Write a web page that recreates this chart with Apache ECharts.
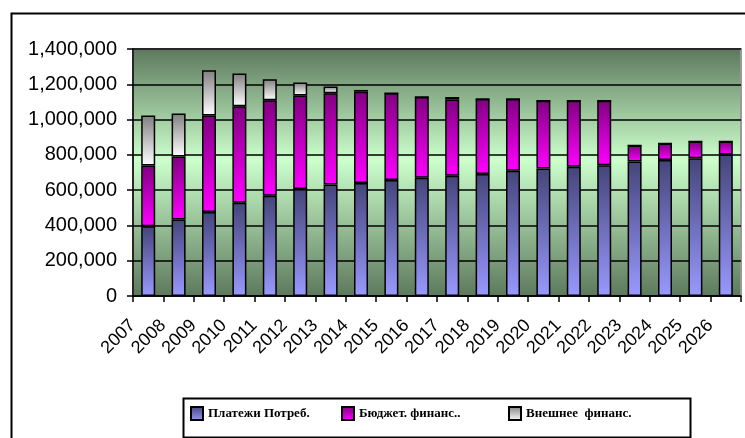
<!DOCTYPE html>
<html>
<head>
<meta charset="utf-8">
<script src="https://cdn.jsdelivr.net/npm/echarts@6/dist/echarts.min.js"></script>
<style>
  html, body { margin: 0; padding: 0; background: #fff; }
  #chart { width: 745px; height: 438px; }
</style>
</head>
<body>
<div id="chart"></div>
<script>
  // категории и значения
  var years = ['2007', '2008', '2009', '2010', '2011', '2012', '2013', '2014', '2015', '2016',
               '2017', '2018', '2019', '2020', '2021', '2022', '2023', '2024', '2025', '2026'];
  var payments = [395000, 434000, 476000, 528000, 568000, 606000, 632000, 640000, 657000, 670000,
                  682000, 691000, 710000, 722000, 733000, 741000, 762000, 771000, 781000, 802000];
  var budget = [344000, 356000, 547000, 548000, 541000, 531000, 517000, 518000, 492000, 458000,
                432000, 425000, 406000, 385000, 374000, 366000, 91000, 94000, 95000, 74000];
  var external = [284000, 244000, 257000, 185000, 120000, 73000, 38000, 10000, 0, 0,
                  14000, 0, 0, 0, 0, 0, 0, 0, 0, 0];
  var seriesNames = ['Платежи Потреб.', 'Бюджет. финанс..', 'Внешнее  финанс.'];
  var legendLeft = [190, 341, 508];

  function vgrad(top, bottom) {
    return new echarts.graphic.LinearGradient(0, 0, 0, 1, [
      { offset: 0, color: top },
      { offset: 1, color: bottom }
    ]);
  }

  var chart = echarts.init(document.getElementById('chart'));
  var barStyle = { borderColor: '#000', borderWidth: 1.5 };

  // по одной легенде на серию, чтобы поставить их как в оригинале
  var legends = seriesNames.map(function (name, i) {
    return {
      left: legendLeft[i], top: 406,
      padding: 0,
      icon: 'rect',
      itemWidth: 12, itemHeight: 13,
      textStyle: {
        fontFamily: 'Liberation Serif', fontWeight: 'bold', fontSize: 13, color: '#000',
        padding: [0, 0, 6, 0]
      },
      data: [name]
    };
  });

  chart.setOption({
    animation: false,
    backgroundColor: '#fff',
    graphic: [{
      type: 'rect',
      left: 9, top: 11,
      shape: { width: 760, height: 440 },
      style: { fill: 'none', stroke: '#000', lineWidth: 2 },
      silent: true
    }, {
      type: 'rect',
      left: 181, top: 396,
      shape: { width: 507, height: 39 },
      style: { fill: 'none', stroke: '#000', lineWidth: 2 },
      silent: true
    }],
    grid: {
      left: 133, right: 4, top: 49, bottom: 142,
      show: true,
      borderColor: '#999',
      borderWidth: 2,
      backgroundColor: new echarts.graphic.LinearGradient(0, 0, 0, 1, [
        { offset: 0, color: '#5c785c' },
        { offset: 0.45, color: '#ccffcc' },
        { offset: 1, color: '#5c785c' }
      ])
    },
    legend: legends,
    xAxis: {
      type: 'category',
      data: years,
      axisLine: { lineStyle: { color: '#000', width: 1.5 } },
      axisTick: { show: true, length: 6, lineStyle: { color: '#000', width: 1.5 } },
      axisLabel: {
        rotate: 45,
        margin: 11,
        padding: [0, 22, 0, 0],
        interval: 0,
        fontFamily: 'Liberation Sans',
        fontSize: 18,
        color: '#000'
      },
      splitLine: { show: false }
    },
    yAxis: {
      type: 'value',
      min: 0, max: 1400000, interval: 200000,
      axisLine: { show: true, lineStyle: { color: '#000', width: 1.5 } },
      axisTick: { show: true, length: 6, lineStyle: { color: '#000', width: 1.5 } },
      axisLabel: {
        margin: 16,
        fontFamily: 'Liberation Sans',
        fontSize: 20,
        color: '#000',
        formatter: function (v) { return v.toLocaleString('en-US'); }
      },
      splitLine: { lineStyle: { color: '#000', width: 1.5 } }
    },
    series: [
      {
        name: seriesNames[0], type: 'bar', stack: 'total', barWidth: 14,
        itemStyle: Object.assign({ color: vgrad('#45457a', '#9999ff') }, barStyle),
        data: payments
      },
      {
        name: seriesNames[1], type: 'bar', stack: 'total',
        itemStyle: Object.assign({ color: vgrad('#800080', '#ff00ff') }, barStyle),
        data: budget
      },
      {
        name: seriesNames[2], type: 'bar', stack: 'total',
        itemStyle: Object.assign({ color: vgrad('#808080', '#ffffff') }, barStyle),
        data: external
      }
    ]
  });
</script>
</body>
</html>
